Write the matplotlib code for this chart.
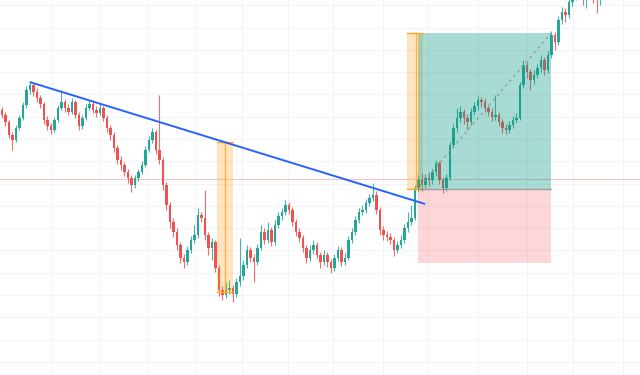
import matplotlib.pyplot as plt
from matplotlib.patches import Rectangle

# candle data (one bar per slot)
first_open = 290
closes = [285, 278, 265, 260, 272, 282, 295, 310, 315, 308,
          302, 296, 280, 274, 270, 280, 292, 298, 292, 288,
          298, 285, 274, 282, 292, 296, 290, 287, 292, 282,
          272, 265, 252, 240, 235, 228, 222, 215, 222, 228,
          235, 250, 260, 268, 250, 240, 215, 195, 178, 168,
          155, 142, 138, 150, 160, 165, 185, 182, 165, 152,
          158, 132, 110, 105, 110, 112, 106, 118, 124, 135,
          150, 142, 138, 152, 168, 160, 170, 158, 175, 184,
          188, 195, 190, 178, 168, 162, 152, 142, 150, 155,
          145, 138, 145, 138, 132, 142, 150, 138, 142, 160,
          168, 180, 188, 190, 197, 202, 205, 190, 170, 165,
          163, 160, 150, 155, 160, 172, 178, 182, 212, 220,
          215, 222, 220, 228, 237, 220, 212, 222, 255, 272,
          282, 288, 282, 278, 288, 294, 300, 298, 292, 288,
          283, 285, 278, 272, 270, 275, 280, 282, 315, 335,
          328, 320, 325, 332, 340, 330, 345, 365, 358, 380,
          388, 385, 398, 410, 418, 420, 415, 418, 425, 420, 412, 415]
highs = [293, 288, 280, 268, 275, 285, 298, 314, 318, 316,
         312, 305, 298, 284, 277, 283, 295, 310, 301, 296,
         302, 300, 288, 285, 296, 300, 299, 294, 297, 294,
         285, 275, 268, 255, 244, 238, 231, 225, 225, 231,
         239, 254, 264, 272, 270, 305, 243, 218, 198, 182,
         172, 158, 146, 154, 164, 175, 192, 188, 210, 168,
         162, 160, 135, 114, 118, 120, 115, 122, 162, 140,
         155, 153, 146, 156, 175, 172, 178, 173, 180, 188,
         192, 200, 198, 193, 181, 172, 165, 155, 155, 160,
         158, 148, 150, 148, 141, 146, 154, 153, 147, 164,
         172, 184, 192, 195, 201, 206, 217, 209, 193, 174,
         169, 167, 163, 159, 165, 176, 188, 195, 215, 225,
         227, 226, 228, 231, 240, 239, 223, 226, 258, 276,
         292, 294, 291, 286, 292, 298, 304, 303, 302, 295,
         292, 305, 288, 281, 276, 279, 284, 287, 318, 340,
         338, 331, 330, 336, 345, 343, 349, 369, 368, 384,
         393, 392, 402, 414, 422, 425, 424, 423, 430, 428, 424, 420]
lows = [282, 274, 262, 250, 258, 270, 280, 292, 306, 304,
        298, 292, 276, 270, 266, 268, 278, 290, 288, 285,
        286, 282, 270, 271, 280, 290, 287, 283, 285, 279,
        268, 260, 248, 236, 230, 224, 217, 208, 212, 219,
        226, 233, 248, 257, 246, 236, 210, 190, 172, 163,
        150, 137, 132, 135, 147, 157, 162, 178, 160, 145,
        140, 128, 104, 100, 102, 106, 98, 103, 114, 120,
        132, 138, 118, 135, 150, 156, 157, 154, 155, 172,
        180, 185, 186, 174, 164, 158, 148, 137, 139, 146,
        142, 132, 135, 133, 127, 129, 139, 134, 135, 140,
        157, 165, 177, 185, 187, 194, 199, 186, 165, 160,
        159, 156, 144, 147, 152, 157, 168, 175, 180, 208,
        209, 212, 214, 216, 224, 216, 207, 209, 220, 252,
        268, 278, 276, 270, 275, 285, 290, 293, 288, 284,
        279, 280, 274, 267, 266, 267, 272, 277, 280, 312,
        322, 310, 316, 322, 328, 325, 327, 342, 350, 355,
        376, 378, 382, 394, 400, 405, 395, 392, 402, 397, 387, 395]
opens = [first_open] + closes[:-1]

# drawings on the chart
trend_start = (7.9, 318)
trend_end = (120.9, 196)
zone1 = (61.4, 66.0, 108, 258)   # x0, x1, low, high
zone1_mark = 63.7
zone2 = (115.7, 120.3, 211, 367)
zone2_mark = 118.3
pos_start, pos_end = 118.9, 156.9
entry, target, stop = 211, 367, 137
price_line = 221

grid_x = [14.3, 28, 41.4, 55.1, 68.6, 81.7, 94.6, 108.9, 121.7, 136, 150, 163.1, 177.4]
grid_y = [38, 60, 83, 105, 127, 150, 172, 194, 216, 239, 261, 283, 306, 328, 350, 372, 395]

up_col = '#26a69a'
down_col = '#ef5350'

fig = plt.figure(figsize=(6.4, 3.75), dpi=100)
ax = fig.add_axes([0, 0, 1, 1])
ax.set_xlim(-0.571, 182.29)
ax.set_ylim(25, 400)
ax.axis('off')

for gx in grid_x:
    ax.axvline(gx, color='#f3f4f7', lw=0.8, zorder=0)
for gy in grid_y:
    ax.axhline(gy, color='#f3f4f7', lw=0.8, zorder=0)

ax.axhline(price_line, color='#f8c4c8', lw=0.8, zorder=1)

idx = list(range(len(closes)))
cols = [up_col if c >= o else down_col for o, c in zip(opens, closes)]
bottoms = [min(o, c) for o, c in zip(opens, closes)]
heights = [max(abs(c - o), 0.8) for o, c in zip(opens, closes)]
ax.vlines(idx, lows, highs, colors=cols, lw=0.8, alpha=0.85, zorder=2)
ax.bar(idx, heights, bottom=bottoms, width=0.66, color=cols, lw=0, zorder=2)

# trend line
ax.plot([trend_start[0], trend_end[0]], [trend_start[1], trend_end[1]],
        color='#2962ff', lw=1.4, zorder=5, solid_capstyle='butt')

# highlight zones
for (x0, x1, lo, hi), mk in [(zone1, zone1_mark), (zone2, zone2_mark)]:
    ax.add_patch(Rectangle((x0, lo), x1 - x0, hi - lo, facecolor='#ff9800',
                           alpha=0.25, lw=0, zorder=3))
    ax.plot([x0, x1], [hi, hi], color='#ffa726', lw=1.0, zorder=4)
    ax.plot([x0, x1], [lo, lo], color='#ffa726', lw=1.0, zorder=4)
    ax.plot([mk, mk], [lo, hi], color='#ffa726', lw=1.0, alpha=0.8, zorder=4)

# long position
ax.add_patch(Rectangle((pos_start, entry), pos_end - pos_start, target - entry,
                       facecolor='#089981', alpha=0.35, lw=0, zorder=3))
ax.add_patch(Rectangle((pos_start, stop), pos_end - pos_start, entry - stop,
                       facecolor='#f23645', alpha=0.2, lw=0, zorder=3))
ax.plot([pos_start, pos_end], [entry, entry], color='#7a8a88', lw=1.0, alpha=0.7, zorder=4)
ax.plot([pos_start + 0.5, pos_end], [entry + 3, target], color='#8a9a98',
        lw=0.9, ls=(0, (2, 3)), zorder=4)

fig.savefig('out.png', dpi=100, facecolor='white')
